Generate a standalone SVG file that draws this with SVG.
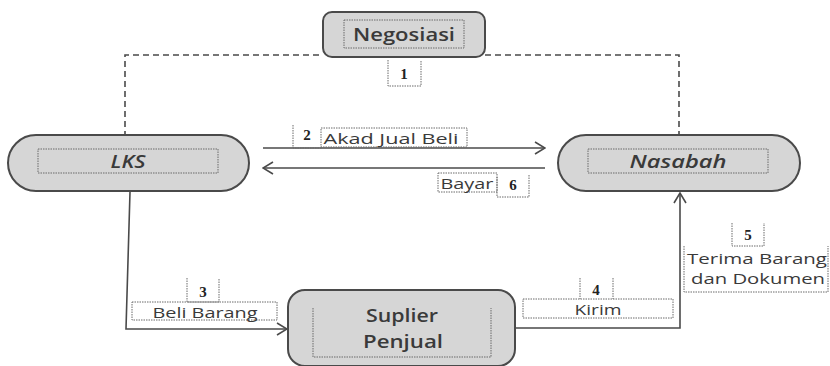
<svg xmlns="http://www.w3.org/2000/svg" width="830" height="366" viewBox="0 0 830 366">
<defs>
<style>
.node{fill:#d6d6d6;stroke:#4a4a4a;stroke-width:2}
.inner{fill:none;stroke:#6a6a6a;stroke-width:1;stroke-dasharray:1.5 1}
.lbl{font-family:"Open Sans","Liberation Sans",sans-serif;font-size:15px;font-weight:500;fill:#3a3a3a;text-anchor:middle}
.big{font-family:"Open Sans","Liberation Sans",sans-serif;font-size:18px;font-weight:600;fill:#3a3a3a;text-anchor:middle}
.num{font-family:"Liberation Serif",serif;font-weight:bold;font-size:15px;fill:#222;text-anchor:middle}
.conn{fill:none;stroke:#4a4a4a;stroke-width:1.6}
.dash{fill:none;stroke:#4a4a4a;stroke-width:1.6;stroke-dasharray:6 4}
</style>
<marker id="arr" markerWidth="12" markerHeight="14" refX="11" refY="7" orient="auto" markerUnits="userSpaceOnUse">
<path d="M1,1 L11,7 L1,13" fill="none" stroke="#4a4a4a" stroke-width="1.6"/>
</marker>
</defs>
<rect width="830" height="366" fill="#ffffff"/>
<g id="connectors">
<path class="dash" d="M125,137 V55 H323"/>
<path class="dash" d="M485,55 H679 V137"/>
<line class="conn" x1="263" y1="148" x2="545" y2="148" marker-end="url(#arr)"/>
<line class="conn" x1="545" y1="168" x2="263" y2="168" marker-end="url(#arr)"/>
<path class="conn" d="M130,192 L126,329 H287" marker-end="url(#arr)"/>
<path class="conn" d="M515,328 H680 V193" marker-end="url(#arr)"/>
</g>
<g id="negosiasi">
<rect class="node" x="323" y="12" width="162" height="45" rx="9"/>
<rect class="inner" x="344" y="20" width="120" height="28"/>
<text class="big" x="404" y="41" textLength="102" lengthAdjust="spacingAndGlyphs">Negosiasi</text>
</g>
<g id="lks">
<rect class="node" x="8" y="135" width="241" height="56" rx="28"/>
<rect class="inner" x="38" y="149" width="180" height="24"/>
<text class="big" x="128" y="168" font-style="italic" textLength="35" lengthAdjust="spacingAndGlyphs">LKS</text>
</g>
<g id="nasabah">
<rect class="node" x="558" y="135" width="242" height="56" rx="28"/>
<rect class="inner" x="588" y="149" width="180" height="24"/>
<text class="big" x="678" y="168" font-style="italic" textLength="97" lengthAdjust="spacingAndGlyphs">Nasabah</text>
</g>
<g id="suplier">
<rect class="node" x="288" y="290" width="227" height="76" rx="17"/>
<path class="inner" d="M313,308 V357 H491 V308"/>
<text class="big" x="402" y="322" textLength="72" lengthAdjust="spacingAndGlyphs">Suplier</text>
<text class="big" x="403" y="348" textLength="80" lengthAdjust="spacingAndGlyphs">Penjual</text>
</g>
<g id="label1">
<path class="inner" d="M388,60 V86 H421 V60"/>
<text class="num" x="404" y="79">1</text>
</g>
<g id="label2">
<path class="inner" d="M293,125 V148 H322"/>
<text class="num" x="307" y="140">2</text>
<rect class="inner" x="321" y="128" width="146" height="19"/>
<text class="lbl" x="391" y="144" textLength="135" lengthAdjust="spacingAndGlyphs">Akad Jual Beli</text>
</g>
<g id="label6">
<rect class="inner" x="438" y="173" width="59" height="19"/>
<text class="lbl" x="467" y="189" textLength="53" lengthAdjust="spacingAndGlyphs">Bayar</text>
<path class="inner" d="M497,177 V197 H529 V175"/>
<text class="num" x="513" y="190">6</text>
</g>
<g id="label3">
<path class="inner" d="M187,278 V302 H219 V278"/>
<text class="num" x="203" y="297">3</text>
<rect class="inner" x="132" y="302" width="145" height="18"/>
<text class="lbl" x="205" y="318" textLength="105" lengthAdjust="spacingAndGlyphs">Beli Barang</text>
</g>
<g id="label4">
<path class="inner" d="M580,278 V299 M613,278 V299"/>
<text class="num" x="596" y="295">4</text>
<rect class="inner" x="523" y="299" width="150" height="19"/>
<text class="lbl" x="598" y="315" textLength="47" lengthAdjust="spacingAndGlyphs">Kirim</text>
</g>
<g id="label5">
<path class="inner" d="M732,223 V246 H764 V223"/>
<text class="num" x="748" y="240">5</text>
<path class="inner" d="M684,246 V292 H828 V246"/>
<text class="lbl" x="757" y="264" textLength="140" lengthAdjust="spacingAndGlyphs">Terima Barang</text>
<text class="lbl" x="758" y="284" textLength="134" lengthAdjust="spacingAndGlyphs">dan Dokumen</text>
</g>
</svg>
